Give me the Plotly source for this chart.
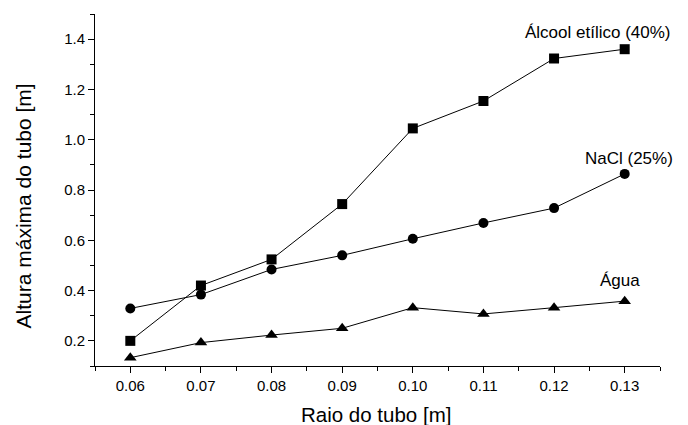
import plotly.graph_objects as go

raio = [0.06, 0.07, 0.08, 0.09, 0.10, 0.11, 0.12, 0.13]
alcool = [0.20, 0.42, 0.524, 0.744, 1.045, 1.154, 1.323, 1.36]
nacl = [0.329, 0.384, 0.484, 0.54, 0.606, 0.669, 0.728, 0.864]
agua = [0.133, 0.193, 0.223, 0.25, 0.332, 0.307, 0.332, 0.358]

x_ticks = [0.06, 0.07, 0.08, 0.09, 0.10, 0.11, 0.12, 0.13]
x_tick_labels = ["0.06", "0.07", "0.08", "0.09", "0.10", "0.11", "0.12", "0.13"]
y_ticks = [0.2, 0.4, 0.6, 0.8, 1.0, 1.2, 1.4]
y_tick_labels = ["0.2", "0.4", "0.6", "0.8", "1.0", "1.2", "1.4"]

FONT = "Liberation Sans, Arial, sans-serif"

fig = go.Figure()
series = [
    ("Álcool etílico (40%)", alcool, "square", 10),
    ("NaCl (25%)", nacl, "circle", 10),
    ("Água", agua, "triangle-up", 11),
]
for name, ys, sym, sz in series:
    fig.add_trace(go.Scatter(
        x=raio, y=ys, mode="lines+markers", name=name,
        line=dict(color="black", width=1),
        marker=dict(symbol=sym, size=sz, color="black", line=dict(width=0)),
        cliponaxis=False, showlegend=False,
    ))

labels = [
    ("Álcool etílico (40%)", 0.890, 0.947),
    ("NaCl (25%)", 0.946, 0.590),
    ("Água", 0.930, 0.244),
]
for txt, lx, ly in labels:
    fig.add_annotation(x=lx, y=ly, text=txt, showarrow=False,
                       xref="paper", yref="paper", xanchor="center", yanchor="middle",
                       font=dict(family=FONT, size=17, color="black"))

# axis titles
fig.add_annotation(x=0.498, y=-0.1378, text="Raio do tubo [m]", showarrow=False,
                   xref="paper", yref="paper", xanchor="center", yanchor="middle",
                   font=dict(family=FONT, size=20.5, color="black"))
fig.add_annotation(x=-0.1264, y=0.455, text="Altura máxima do tubo [m]", showarrow=False,
                   xref="paper", yref="paper", xanchor="center", yanchor="middle",
                   textangle=-90,
                   font=dict(family=FONT, size=21, color="black"))

fig.update_layout(
    width=688, height=425,
    margin=dict(l=87, r=36, t=6, b=67, autoexpand=False),
    plot_bgcolor="white", paper_bgcolor="white",
    font=dict(family=FONT, color="black"),
)
fig.update_xaxes(
    range=[0.055, 0.135], tickvals=x_ticks, ticktext=x_tick_labels,
    showgrid=False, zeroline=False, showline=True, linecolor="black", linewidth=1,
    ticks="outside", ticklen=6, tickcolor="black", tickwidth=1,
    tickfont=dict(family=FONT, size=15), automargin=False,
    minor=dict(tickvals=[0.055, 0.065, 0.075, 0.085, 0.095, 0.105, 0.115, 0.125, 0.135],
               ticks="outside", ticklen=4, tickcolor="black", tickwidth=1),
)
fig.update_yaxes(
    range=[0.1, 1.5], tickvals=y_ticks, ticktext=y_tick_labels,
    showgrid=False, zeroline=False, showline=True, linecolor="black", linewidth=1,
    ticks="outside", ticklen=6, tickcolor="black", tickwidth=1,
    tickfont=dict(family=FONT, size=15), automargin=False,
    minor=dict(tickvals=[0.1, 0.3, 0.5, 0.7, 0.9, 1.1, 1.3, 1.5],
               ticks="outside", ticklen=4, tickcolor="black", tickwidth=1),
)

fig.write_html("out.html")
